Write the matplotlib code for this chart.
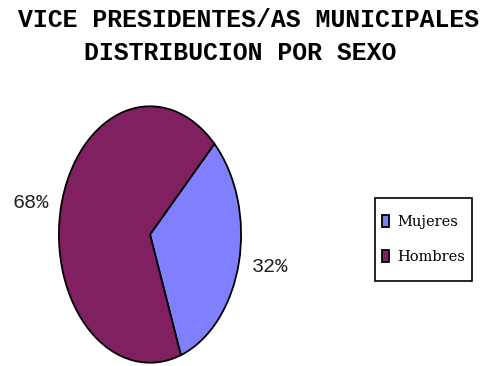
import matplotlib.pyplot as plt
from matplotlib.patches import Rectangle

categorias = ["Mujeres", "Hombres"]
porcentajes = [32, 68]
colores = ["#8080FF", "#802060"]

W, H = 496, 366
fig = plt.figure(figsize=(W / 100, H / 100), dpi=100)

# ejes del pastel: elipse estirada en vertical
ax = fig.add_axes([58 / W, 2 / H, 184 / W, 259 / H])
wedges, textos = ax.pie(
    porcentajes,
    colors=colores,
    labels=[f"{p}%" for p in porcentajes],
    labeldistance=1.14,
    startangle=45,
    counterclock=False,
    wedgeprops=dict(edgecolor="black", linewidth=1.3),
    textprops=dict(family="Liberation Mono", fontsize=14.5, color="#222222"),
)
ax.set_aspect("auto")
ax.set_xlim(-1.01, 1.01)
ax.set_ylim(-1.01, 1.01)
for t in textos:
    t.set_clip_on(False)

titulo = dict(family="Liberation Mono", fontweight="bold", fontsize=17.9,
              ha="center", va="center")
fig.text(249 / W, 1 - 20 / H, "VICE PRESIDENTES/AS MUNICIPALES", **titulo)
fig.text(240 / W, 1 - 53.5 / H, "DISTRIBUCION POR SEXO", **titulo)

# leyenda sin marco; el recuadro se dibuja aparte para darle más alto
leg = fig.legend(
    wedges, categorias,
    loc="center",
    bbox_to_anchor=(423.5 / W, 1 - 239.5 / H),
    prop=dict(family="DejaVu Serif", size=10.5),
    frameon=False,
    handlelength=0.46,
    handleheight=0.9,
    handletextpad=0.55,
    labelspacing=1.4,
    borderpad=0.55,
    borderaxespad=0,
)
fig.add_artist(Rectangle((375 / W, 1 - 281 / H), 97 / W, 83 / H,
                         transform=fig.transFigure, fill=False,
                         edgecolor="black", linewidth=1.2))

fig.savefig("out.png", dpi=100)
